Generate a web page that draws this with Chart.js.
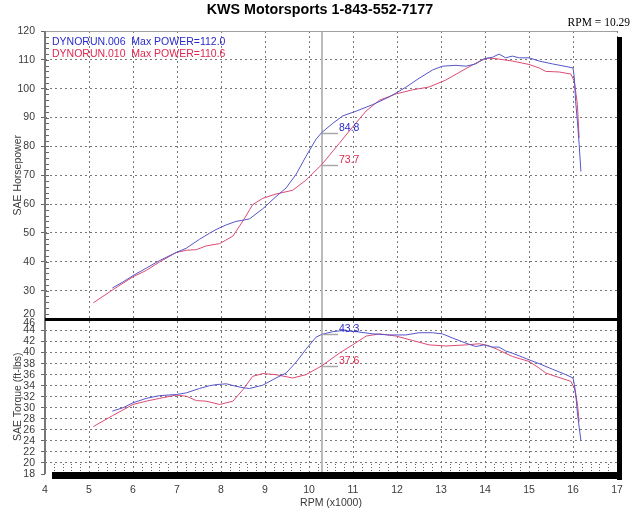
<!DOCTYPE html>
<html>
<head>
<meta charset="utf-8">
<title>KWS Motorsports dyno</title>
<script src="https://cdn.jsdelivr.net/npm/chart.js@4.4.1/dist/chart.umd.min.js"></script>
<style>
  html, body { margin: 0; padding: 0; background: #fff; }
  canvas { display: block; }
</style>
</head>
<body>
<canvas id="dyno" width="640" height="512"></canvas>
<script>
// run DYNORUN.006 (blue)
var rpm006 = [5.53, 5.77, 6.0, 6.3, 6.6, 6.98, 7.21, 7.51, 7.74, 7.89, 8.12, 8.34, 8.53, 8.65, 8.95, 9.25, 9.48, 9.71, 9.93, 10.16,
  10.29, 10.54, 10.77, 11.07, 11.45, 11.83, 12.2, 12.5, 12.81, 13.03, 13.34, 13.57, 13.79, 13.98, 14.17, 14.32, 14.47, 14.62, 14.78, 15.0,
  15.23, 15.53, 15.84, 16.0, 16.03, 16.06, 16.1, 16.14, 16.18];
var hp006 = [30.9, 33.0, 35.2, 37.8, 40.4, 43.2, 44.7, 47.8, 49.9, 51.2, 52.8, 54.0, 54.5, 54.9, 58.4, 62.6, 65.6, 70.4, 76.5, 82.5,
  84.8, 88.0, 90.6, 92.2, 94.5, 97.2, 100.5, 103.6, 106.5, 107.8, 108.1, 107.8, 108.6, 110.4, 110.9, 112.0, 110.7, 111.3, 110.7, 110.7,
  109.6, 108.6, 107.7, 107.2, 103.8, 95.6, 88.7, 80.6, 71.3];
var tq006 = [29.4, 30.0, 30.9, 31.7, 32.2, 32.4, 32.7, 33.5, 34.0, 34.2, 34.35, 33.9, 33.6, 33.5, 34.1, 35.4, 36.3, 38.3, 40.6, 42.8,
  43.3, 43.8, 44.0, 43.8, 43.4, 43.2, 43.2, 43.6, 43.6, 43.4, 42.4, 41.7, 41.1, 41.4, 41.0, 41.0, 40.3, 39.9, 39.4, 38.7,
  38.0, 37.0, 36.0, 35.4, 34.2, 32.7, 29.1, 26.5, 24.0];

// run DYNORUN.010 (red)
var rpm010 = [5.1, 5.54, 6.0, 6.3, 6.6, 6.98, 7.21, 7.44, 7.66, 7.97, 8.27, 8.5, 8.72, 8.95, 9.25, 9.63, 9.93, 10.29, 10.69, 10.99,
  11.3, 11.6, 11.98, 12.35, 12.73, 13.11, 13.57, 13.87, 14.06, 14.25, 14.62, 15.0, 15.23, 15.38, 15.68, 15.95, 16.03, 16.07, 16.1, 16.14];
var hp010 = [25.8, 30.3, 34.8, 37.0, 39.9, 43.2, 44.0, 44.2, 45.5, 46.3, 48.9, 54.2, 59.8, 62.0, 63.5, 64.8, 68.3, 73.7, 81.1, 86.7,
  92.3, 96.0, 98.2, 99.6, 100.6, 103.0, 107.0, 109.5, 110.6, 110.4, 109.6, 108.4, 107.2, 106.0, 105.8, 105.1, 102.6, 98.0, 94.5, 82.9];
var tq010 = [26.6, 28.6, 30.6, 31.2, 31.7, 32.3, 32.1, 31.3, 31.2, 30.6, 31.2, 33.3, 35.7, 36.2, 36.0, 35.4, 36.0, 37.6, 39.9, 41.4,
  43.0, 43.4, 43.0, 42.2, 41.4, 41.2, 41.4, 41.6, 41.3, 40.7, 39.3, 38.4, 37.2, 36.3, 35.5, 34.8, 33.6, 32.0, 30.8, 27.5];

var runNames = ['DYNORUN.006', 'DYNORUN.010'];
var runColors = ['rgb(85,85,200)', 'rgb(220,75,115)'];
var textColors = ['#2a2acc', '#e0284f'];

// axis ticks
var rpmTicks = [4, 5, 6, 7, 8, 9, 10, 11, 12, 13, 14, 15, 16, 17];
var hpTicks = [30, 40, 50, 60, 70, 80, 90, 100, 110, 120];
var tqTicks = [18, 20, 22, 24, 26, 28, 30, 32, 34, 36, 38, 40, 42, 44];

// cursor readout
var cursorRpm = 10.29;
var cursorHp = [84.8, 73.7];
var cursorTq = [43.3, 37.6];

var FONT = '"Liberation Sans", Arial, sans-serif';
Chart.defaults.font.family = FONT;
Chart.defaults.font.size = 10.5;
Chart.defaults.color = '#3a3a3a';

function pts(xs, ys) {
  return xs.map(function (r, i) { return { x: r, y: ys[i] }; });
}

function setTicks(list) {
  return function (scale) {
    scale.ticks = list.map(function (v) { return { value: v }; });
  };
}

function gridColor(skip) {
  return function (c) {
    return skip.indexOf(c.tick && c.tick.value) >= 0 ? 'rgba(0,0,0,0)' : '#777';
  };
}

var dynoDecor = {
  id: 'dynoDecor',
  beforeDatasetsDraw: function (chart) {
    var ctx = chart.ctx, a = chart.chartArea, x = chart.scales.x, yHp = chart.scales.yHp;
    ctx.save();
    ctx.strokeStyle = '#666';
    ctx.lineWidth = 1;
    ctx.beginPath();
    for (var v = yHp.min + 2; v < yHp.max; v += 2) {
      var py = Math.round(yHp.getPixelForValue(v)) + 0.5;
      ctx.moveTo(a.left, py);
      ctx.lineTo(a.left + 4, py);
    }
    ctx.stroke();
    // minor rpm ticks along the bottom
    ctx.setLineDash([1, 2]);
    ctx.beginPath();
    for (var i = 1; i < 65; i++) {
      if (i % 5 === 0) continue;
      var px = Math.round(x.getPixelForValue(4 + i * 0.2)) + 0.5;
      ctx.moveTo(px, a.bottom - 10);
      ctx.lineTo(px, a.bottom - 2);
    }
    ctx.stroke();
    // cursor
    ctx.setLineDash([]);
    var cx = Math.round(x.getPixelForValue(cursorRpm));
    ctx.strokeStyle = '#bbbbbb';
    ctx.lineWidth = 2;
    ctx.beginPath();
    ctx.moveTo(cx, a.top);
    ctx.lineTo(cx, a.bottom);
    ctx.stroke();
    ctx.restore();
  },
  afterDraw: function (chart) {
    var ctx = chart.ctx, a = chart.chartArea, x = chart.scales.x;
    var yHp = chart.scales.yHp, yTq = chart.scales.yTq;
    ctx.save();

    // frame
    ctx.strokeStyle = '#a0a0a0';
    ctx.lineWidth = 1;
    ctx.beginPath();
    ctx.moveTo(a.left, a.top + 0.5);
    ctx.lineTo(a.right, a.top + 0.5);
    ctx.stroke();
    ctx.strokeStyle = '#777';
    ctx.lineWidth = 2;
    ctx.beginPath();
    ctx.moveTo(a.left, a.top);
    ctx.lineTo(a.left, a.bottom);
    ctx.stroke();

    ctx.fillStyle = '#000';
    ctx.fillRect(a.left, Math.round(yHp.bottom) - 2, a.right - a.left + 5, 3);
    ctx.fillRect(a.right, a.top + 6, 5, a.bottom - a.top);
    ctx.fillRect(a.left + 7, a.bottom - 2, a.right - a.left - 2, 7);

    // edge labels left out of the tick lists
    ctx.font = '10.5px ' + FONT;
    ctx.fillStyle = '#3a3a3a';
    ctx.textAlign = 'right';
    ctx.textBaseline = 'middle';
    ctx.fillText(String(yHp.min), a.left - 10, yHp.bottom - 5);
    ctx.fillText(String(yTq.max), a.left - 10, yTq.top + 4);

    // title
    ctx.font = 'bold 14.3px ' + FONT;
    ctx.fillStyle = '#000';
    ctx.textAlign = 'center';
    ctx.textBaseline = 'alphabetic';
    ctx.fillText('KWS Motorsports 1-843-552-7177', 320, 13.5);

    ctx.font = '11.5px "Liberation Serif", "Times New Roman", serif';
    ctx.textAlign = 'right';
    ctx.fillText('RPM = ' + cursorRpm.toFixed(2), 630, 26);

    // legend
    ctx.font = '10.5px ' + FONT;
    ctx.textAlign = 'left';
    var maxes = [Math.max.apply(null, hp006), Math.max.apply(null, hp010)];
    for (var i = 0; i < 2; i++) {
      ctx.fillStyle = textColors[i];
      ctx.fillText(runNames[i] + '  Max POWER=' + maxes[i].toFixed(1), 52, 45 + i * 11.8);
    }

    // cursor readouts
    var cx = Math.round(x.getPixelForValue(cursorRpm));
    var reads = [[yHp, cursorHp], [yTq, cursorTq]];
    reads.forEach(function (r) {
      r[1].forEach(function (v, j) {
        var py = Math.round(r[0].getPixelForValue(v)) + 0.5;
        ctx.strokeStyle = '#a8a8a8';
        ctx.lineWidth = 1.5;
        ctx.beginPath();
        ctx.moveTo(cx, py);
        ctx.lineTo(cx + 16, py);
        ctx.stroke();
        ctx.fillStyle = textColors[j];
        ctx.fillText(v.toFixed(1), cx + 17, py - 2.5);
      });
    });
    ctx.restore();
  }
};

var config = {
  type: 'line',
  data: {
    datasets: [
      { label: runNames[0] + ' HP', data: pts(rpm006, hp006), yAxisID: 'yHp', borderColor: runColors[0] },
      { label: runNames[1] + ' HP', data: pts(rpm010, hp010), yAxisID: 'yHp', borderColor: runColors[1] },
      { label: runNames[0] + ' TQ', data: pts(rpm006, tq006), yAxisID: 'yTq', borderColor: runColors[0] },
      { label: runNames[1] + ' TQ', data: pts(rpm010, tq010), yAxisID: 'yTq', borderColor: runColors[1] }
    ]
  },
  options: {
    responsive: false,
    animation: false,
    devicePixelRatio: 1,
    layout: { padding: { top: 31, right: 23, left: 0, bottom: 0 } },
    elements: {
      point: { radius: 0 },
      line: { borderWidth: 1, tension: 0, fill: false }
    },
    plugins: { legend: { display: false }, tooltip: { enabled: false } },
    scales: {
      x: {
        type: 'linear',
        min: 4,
        max: 17,
        afterBuildTicks: setTicks(rpmTicks),
        afterFit: function (s) { s.height = 38; },
        grid: { color: gridColor([4]), drawTicks: false },
        border: { display: false, dash: [2, 3] },
        ticks: { padding: 10 },
        title: { display: true, text: 'RPM (x1000)', padding: { top: 0, bottom: 3 } }
      },
      yTq: {
        type: 'linear',
        position: 'left',
        stack: 'dyno',
        stackWeight: 154.5,
        min: 18,
        max: 46,
        afterBuildTicks: setTicks(tqTicks),
        afterFit: function (s) { s.width = 45; },
        grid: { color: gridColor([18]), tickLength: 4, tickColor: '#666' },
        border: { display: false, dash: [2, 3] },
        ticks: { padding: 6, autoSkip: false },
        title: { display: true, text: 'SAE Torque (ft-lbs)', padding: { top: 12, bottom: 0 } }
      },
      yHp: {
        type: 'linear',
        position: 'left',
        stack: 'dyno',
        stackWeight: 288.5,
        min: 20,
        max: 120,
        afterBuildTicks: setTicks(hpTicks),
        afterFit: function (s) { s.width = 45; },
        grid: { color: gridColor([120]), tickLength: 4, tickColor: '#666' },
        border: { display: false, dash: [2, 3] },
        ticks: { padding: 6, autoSkip: false },
        title: { display: true, text: 'SAE Horsepower', padding: { top: 12, bottom: 0 } }
      }
    }
  },
  plugins: [dynoDecor]
};

window.onload = function () {
  var ctx = document.getElementById('dyno').getContext('2d');
  window.dynoChart = new Chart(ctx, config);
};
</script>
</body>
</html>
